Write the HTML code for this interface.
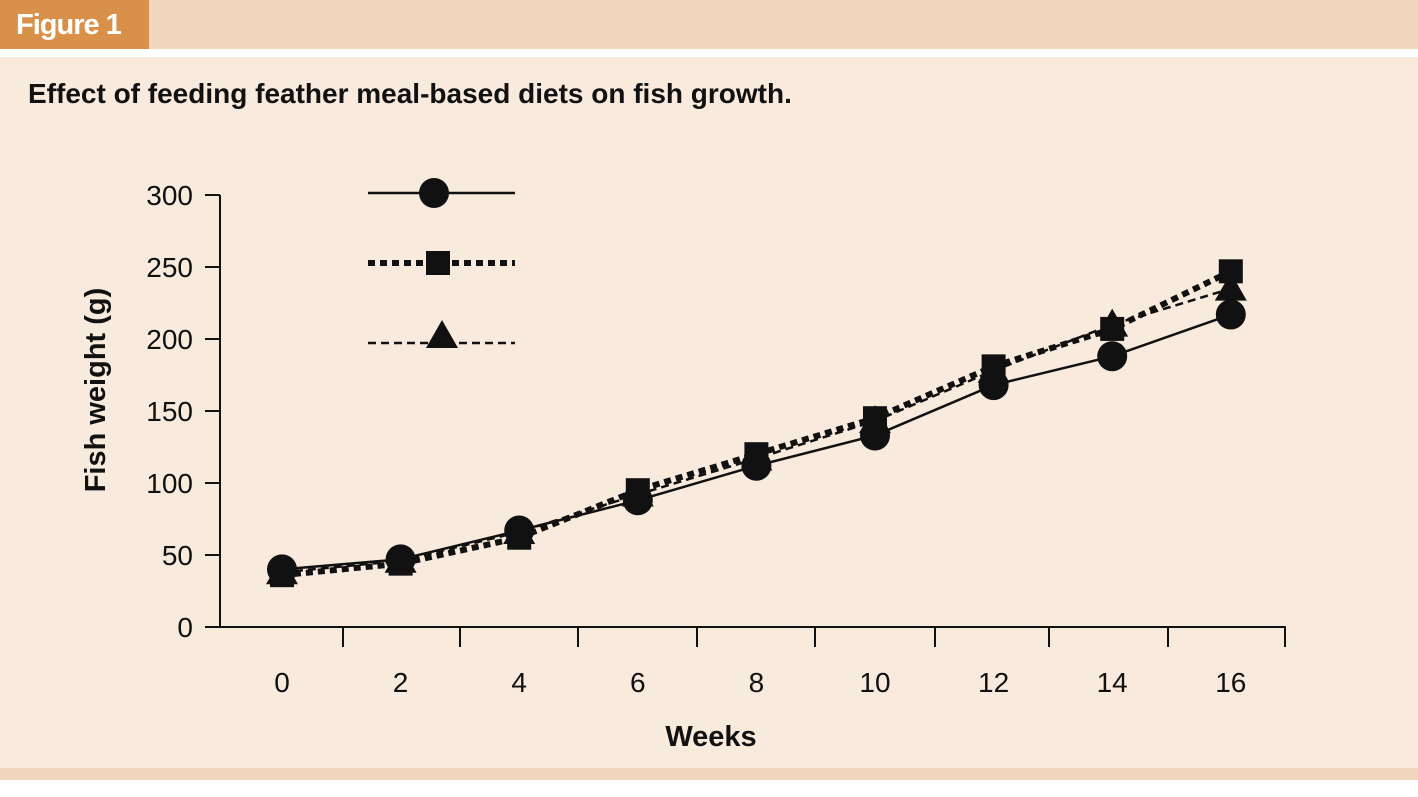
<!DOCTYPE html>
<html><head><meta charset="utf-8"><style>
html,body{margin:0;padding:0;width:1418px;height:797px;overflow:hidden;background:#fff;font-family:"Liberation Sans",sans-serif}
#hdr{position:absolute;left:0;top:0;width:1418px;height:49px;background:#f0d6bd}
#tab{position:absolute;left:0;top:0;width:149px;height:49px;background:#d9914a;color:#fff;font-weight:bold;font-size:29px;line-height:50px;padding-left:16px;box-sizing:border-box;letter-spacing:-1px;transform-origin:left;}
#body{position:absolute;left:0;top:57px;width:1418px;height:711px;background:#f8eadc}
#foot{position:absolute;left:0;top:768px;width:1418px;height:12px;background:#f0d6bd}
#title{position:absolute;left:28px;top:78px;font-size:28px;font-weight:bold;color:#111;letter-spacing:0px}
svg{position:absolute;left:0;top:0}
</style></head><body>
<div id="hdr"></div>
<div id="tab">Figure 1</div>
<div id="body"></div>
<div id="foot"></div>
<div id="title">Effect of feeding feather meal-based diets on fish growth.</div>
<svg id="chart" width="1418" height="797"></svg>
<script>
const weeks=[0,2,4,6,8,10,12,14,16];
const circleSeries=[40,47,67,88,112,133,168,188,217];
const squareSeries=[36,44,62,95,120,145,181,207,247];
const triangleSeries=[38,46,66,92,117,143,178,210,235];
const yTicks=[0,50,100,150,200,250,300];
const xTickMarks=[0,343,460,578,697,815,935,1049,1168,1285];
const NS="http://www.w3.org/2000/svg";
const svg=document.getElementById('chart');
const X=w=>282+w*59.3;
const Y=v=>627-v*1.44;
function mk(t,a,p){const e=document.createElementNS(NS,t);for(const k in a)e.setAttribute(k,a[k]);(p||svg).appendChild(e);return e;}
let e=mk('line',{x1:220,y1:195,x2:220,y2:627,stroke:'#111','stroke-width':2});


e=mk('line',{x1:205,y1:627,x2:1286,y2:627,stroke:'#111','stroke-width':2});


yTicks.forEach(v=>{
 mk('line',{x1:205,y1:Y(v),x2:220,y2:Y(v),stroke:'#111','stroke-width':2});
 const t=mk('text',{x:193,y:Y(v)+10,'text-anchor':'end','font-size':28,fill:'#111'});
 t.textContent=v;
 
 
});
xTickMarks.slice(1).forEach(x=>mk('line',{x1:x,y1:627,x2:x,y2:647,stroke:'#111','stroke-width':2}));
weeks.forEach(w=>{
 const t=mk('text',{x:X(w),y:692,'text-anchor':'middle','font-size':28,fill:'#111'});
 t.textContent=w;
 
 
});
e=mk('text',{x:711,y:746,'text-anchor':'middle','font-size':29,'font-weight':'bold',fill:'#111'});
e.textContent='Weeks';


e=mk('text',{x:0,y:0,'text-anchor':'middle','font-size':29,'font-weight':'bold',fill:'#111',transform:'translate(105,390) rotate(-90)'});
e.textContent='Fish weight (g)';


function line(vals,style,name){
 const p=mk('polyline',Object.assign({points:vals.map((v,i)=>X(weeks[i])+','+Y(v)).join(' '),fill:'none',stroke:'#111'},style));
 
 
}
function marker(type,x,y,name){
 let m;
 if(type==='c')m=mk('circle',{cx:x,cy:y,r:15,fill:'#111'});
 else if(type==='s')m=mk('rect',{x:x-12,y:y-12,width:24,height:24,fill:'#111'});
 else m=mk('polygon',{points:`${x},${y-16} ${x+16},${y+12} ${x-16},${y+12}`,fill:'#111'});
 
 
}
line(triangleSeries,{'stroke-width':2.5,'stroke-dasharray':'8,5'},'series-triangle-line');
line(squareSeries,{'stroke-width':6,'stroke-dasharray':'7,5'},'series-square-line');
line(circleSeries,{'stroke-width':2.5},'series-circle-line');
triangleSeries.forEach((v,i)=>marker('t',X(weeks[i]),Y(v),'triangle-point'));
squareSeries.forEach((v,i)=>marker('s',X(weeks[i]),Y(v),'square-point'));
circleSeries.forEach((v,i)=>marker('c',X(weeks[i]),Y(v),'circle-point'));
mk('line',{x1:368,y1:193,x2:515,y2:193,stroke:'#111','stroke-width':2.5});
marker('c',434,193,'legend-circle');
mk('line',{x1:368,y1:263,x2:515,y2:263,stroke:'#111','stroke-width':6,'stroke-dasharray':'7,5'});
marker('s',438,263,'legend-square');
mk('line',{x1:368,y1:343,x2:515,y2:343,stroke:'#111','stroke-width':2.5,'stroke-dasharray':'8,5'});
marker('t',442,336,'legend-triangle');
</script>
</body></html>
